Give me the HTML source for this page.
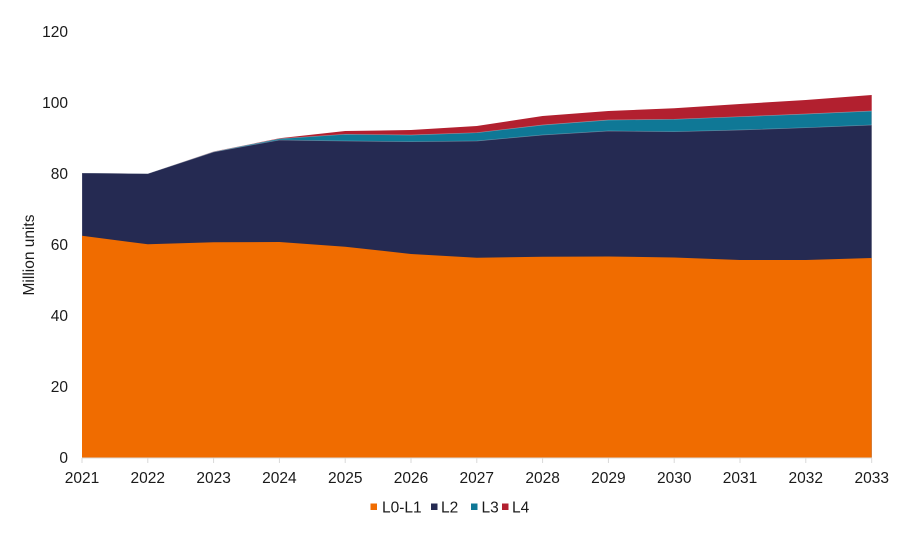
<!DOCTYPE html>
<html>
<head>
<meta charset="utf-8">
<style>
  html, body { margin:0; padding:0; background:#ffffff; }
  svg { display:block; }
  text { font-family: "Liberation Sans", Arial, sans-serif; fill:#1a1a1a; }
</style>
</head>
<body>
<svg width="899" height="533" viewBox="0 0 899 533" xmlns="http://www.w3.org/2000/svg">
  <!-- L4 (red) -->
  <polygon fill="#b2202f" points="
    82,173 147.8,173.7 213.6,151.5 279.4,138.3 345.2,131 411,130 476.8,126 542.6,116 608.4,111 674.2,108.3 740,104 805.8,100 871.7,95
    871.7,457.5 82,457.5"/>
  <!-- L3 (teal) -->
  <polygon fill="#0f7896" stroke="rgba(255,255,255,0.35)" stroke-width="0.7" points="
    82,173 147.8,173.7 213.6,151.7 279.4,138.7 345.2,134.3 411,135 476.8,132.7 542.6,125 608.4,120 674.2,119.3 740,116.7 805.8,114 871.7,111
    871.7,457.5 82,457.5"/>
  <!-- L2 (navy) -->
  <polygon fill="#252a52" stroke="rgba(255,255,255,0.3)" stroke-width="0.7" points="
    82,173 147.8,173.7 213.6,152 279.4,140 345.2,141 411,141.7 476.8,141 542.6,135 608.4,131 674.2,131.7 740,130 805.8,127.7 871.7,125
    871.7,457.5 82,457.5"/>
  <!-- L0-L1 (orange) -->
  <polygon fill="#f06c00" points="
    82,235.7 147.8,244.3 213.6,242.3 279.4,242 345.2,246.7 411,254 476.8,257.7 542.6,256.7 608.4,256.5 674.2,257.5 740,260 805.8,260 871.7,258
    871.7,457.5 82,457.5"/>

  <!-- x axis -->
  <line x1="82" y1="458" x2="872" y2="458" stroke="#d9d9d9" stroke-width="1"/>
  <g stroke="#d9d9d9" stroke-width="1">
    <line x1="82" y1="458" x2="82" y2="463"/>
    <line x1="147.8" y1="458" x2="147.8" y2="463"/>
    <line x1="213.6" y1="458" x2="213.6" y2="463"/>
    <line x1="279.4" y1="458" x2="279.4" y2="463"/>
    <line x1="345.2" y1="458" x2="345.2" y2="463"/>
    <line x1="411" y1="458" x2="411" y2="463"/>
    <line x1="476.8" y1="458" x2="476.8" y2="463"/>
    <line x1="542.6" y1="458" x2="542.6" y2="463"/>
    <line x1="608.4" y1="458" x2="608.4" y2="463"/>
    <line x1="674.2" y1="458" x2="674.2" y2="463"/>
    <line x1="740" y1="458" x2="740" y2="463"/>
    <line x1="805.8" y1="458" x2="805.8" y2="463"/>
    <line x1="871.7" y1="458" x2="871.7" y2="463"/>
  </g>

  <!-- x tick labels -->
  <g font-size="15.5" text-anchor="middle">
    <text x="82" y="483">2021</text>
    <text x="147.8" y="483">2022</text>
    <text x="213.6" y="483">2023</text>
    <text x="279.4" y="483">2024</text>
    <text x="345.2" y="483">2025</text>
    <text x="411" y="483">2026</text>
    <text x="476.8" y="483">2027</text>
    <text x="542.6" y="483">2028</text>
    <text x="608.4" y="483">2029</text>
    <text x="674.2" y="483">2030</text>
    <text x="740" y="483">2031</text>
    <text x="805.8" y="483">2032</text>
    <text x="871.7" y="483">2033</text>
  </g>

  <!-- y tick labels -->
  <g font-size="15.5" text-anchor="end">
    <text x="68" y="463">0</text>
    <text x="68" y="392">20</text>
    <text x="68" y="321">40</text>
    <text x="68" y="250">60</text>
    <text x="68" y="179">80</text>
    <text x="68" y="108">100</text>
    <text x="68" y="37">120</text>
  </g>

  <!-- y axis title -->
  <text font-size="15.5" text-anchor="middle" transform="translate(34,255) rotate(-90)">Million units</text>

  <!-- legend -->
  <rect x="370.5" y="503.5" width="6.5" height="6.5" fill="#f06c00"/>
  <text x="382" y="512.5" font-size="15.5">L0-L1</text>
  <rect x="431" y="503.5" width="6.5" height="6.5" fill="#252a52"/>
  <text x="441" y="512.5" font-size="15.5">L2</text>
  <rect x="471" y="503.5" width="6.5" height="6.5" fill="#0f7896"/>
  <text x="481.5" y="512.5" font-size="15.5">L3</text>
  <rect x="502" y="503.5" width="6.5" height="6.5" fill="#b2202f"/>
  <text x="512" y="512.5" font-size="15.5">L4</text>
</svg>
</body>
</html>
